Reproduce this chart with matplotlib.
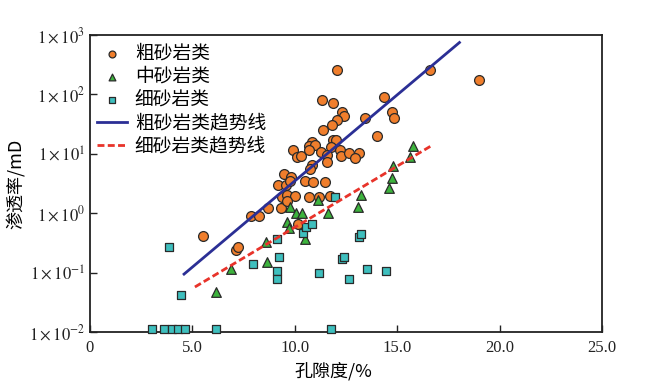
import matplotlib
matplotlib.use('Agg')
import matplotlib.pyplot as plt
from matplotlib.ticker import FixedLocator, FixedFormatter
import numpy as np

plt.rcParams['font.family'] = ['Liberation Serif', 'Noto Sans CJK SC', 'DejaVu Sans']
plt.rcParams['mathtext.fontset'] = 'stix'

# -------------- data --------------
# coarse sandstone: porosity (%), permeability (mD)
coarse_x = [5.53, 7.14, 7.24, 7.87, 8.26, 8.70, 9.35, 9.19, 9.58, 9.49, 9.83,
            9.39, 9.63, 10.02, 10.17, 10.71, 11.20, 11.74, 9.78, 10.51, 10.90,
            11.49, 9.93, 10.12, 10.32, 10.86, 10.71, 11.00, 11.88, 12.03, 10.71,
            11.30, 11.78, 12.22, 12.27, 12.67, 13.15, 12.96, 11.59, 11.59, 10.86,
            10.76, 11.34, 11.88, 12.32, 12.42, 12.08, 11.83, 11.39, 12.08, 14.38,
            13.45, 14.03, 14.77, 14.87, 16.58, 18.97, 9.60]
coarse_y = [0.41, 0.24, 0.27, 0.89, 0.89, 1.21, 1.21, 2.95, 2.95, 4.5, 4.0,
            1.86, 2.0, 1.93, 0.65, 1.86, 1.86, 1.93, 3.45, 3.45, 3.3,
            3.3, 11.5, 8.7, 9.1, 15.6, 13.4, 13.9, 16.9, 16.9, 11.5,
            10.6, 12.9, 11.5, 9.1, 10.2, 10.2, 8.4, 9.4, 7.2, 6.4,
            5.5, 82, 71, 50, 44, 37, 30, 25, 253, 92,
            40, 19.7, 50, 40, 253, 172, 1.6]

# medium sandstone
medium_x = [6.16, 6.89, 8.60, 8.65, 9.63, 9.73, 9.78, 10.07, 10.37, 10.51,
            11.15, 11.64, 13.10, 13.25, 14.62, 14.77, 14.82, 15.65, 15.75]
medium_y = [0.047, 0.115, 0.33, 0.15, 0.71, 0.56, 1.26, 1.0, 1.0, 0.37,
            1.65, 1.0, 1.26, 2.0, 2.7, 3.9, 6.2, 8.7, 13.4]

# fine sandstone
fine_x = [3.03, 3.62, 4.01, 4.30, 4.65, 6.16, 11.78, 3.86, 4.45, 7.97, 9.14,
          9.24, 9.14, 9.14, 10.42, 10.56, 10.86, 11.20, 11.98, 12.32, 12.42,
          12.67, 13.15, 13.25, 13.55, 14.47]
fine_y = [0.011, 0.011, 0.011, 0.011, 0.011, 0.011, 0.011, 0.27, 0.042, 0.139, 0.37,
          0.18, 0.106, 0.078, 0.46, 0.58, 0.65, 0.10, 1.86, 0.17, 0.18,
          0.078, 0.40, 0.44, 0.115, 0.106]

# trend lines (end points, straight on log axis)
coarse_trend_x = [4.6, 18.04]
coarse_trend_y = [0.094, 748]
fine_trend_x = [5.13, 16.63]
fine_trend_y = [0.057, 13.4]

xticks = [0, 5, 10, 15, 20, 25]
xticklabels = ['0', '5.0', '10.0', '15.0', '20.0', '25.0']
yticks = [1e-2, 1e-1, 1e0, 1e1, 1e2, 1e3]
yticklabels = [r'$1\times10^{-2}$', r'$1\times10^{-1}$', r'$1\times10^{0}$',
               r'$1\times10^{1}$', r'$1\times10^{2}$', r'$1\times10^{3}$']
# ---------------------------------------------------------

fig = plt.figure(figsize=(6.46, 3.85), dpi=100)
ax = fig.add_axes([0.139, 0.138, 0.793, 0.771])

ax.scatter(coarse_x, coarse_y, s=50, marker='o', facecolor='#F07E2C',
           edgecolor='#2a2a2a', linewidth=0.9, zorder=3, label='粗砂岩类', clip_on=False)
ax.scatter(medium_x, medium_y, s=48, marker='^', facecolor='#3DB33D',
           edgecolor='#2a2a2a', linewidth=0.9, zorder=3, label='中砂岩类', clip_on=False)
ax.scatter(fine_x, fine_y, s=38, marker='s', facecolor='#3EBFBE',
           edgecolor='#2a2a2a', linewidth=0.9, zorder=3, label='细砂岩类', clip_on=False)
ax.plot(coarse_trend_x, coarse_trend_y, color='#2B2F95', lw=2.0, zorder=4, label='粗砂岩类趋势线')
ax.plot(fine_trend_x, fine_trend_y, color='#E8332A', lw=2.0, ls=(0, (2.5, 1.2)), zorder=4,
        label='细砂岩类趋势线')

ax.set_yscale('log')
ax.set_xlim(0, 25)
ax.set_ylim(1e-2, 1e3)
ax.xaxis.set_major_locator(FixedLocator(xticks))
ax.xaxis.set_major_formatter(FixedFormatter(xticklabels))
ax.yaxis.set_major_locator(FixedLocator(yticks))
ax.yaxis.set_major_formatter(FixedFormatter(yticklabels))
ax.yaxis.set_minor_locator(FixedLocator([]))
ax.tick_params(direction='in', length=5, width=1, labelsize=12, colors='#222222')
ax.tick_params(axis='x', pad=6)
for sp in ax.spines.values():
    sp.set_linewidth(1.3)
    sp.set_color('#222222')

cjk = ['Noto Sans CJK SC', 'DejaVu Sans']
ax.set_xlabel('孔隙度/%', fontsize=13, family=cjk, labelpad=3)
ax.set_ylabel('渗透率/mD', fontsize=13, family=cjk, labelpad=2)
ax.xaxis.set_label_coords(0.475, -0.1)

leg = ax.legend(loc='upper left', frameon=False, prop={'family': cjk, 'size': 13.5},
                handlelength=1.6, handletextpad=0.4, labelspacing=0.12,
                borderaxespad=0.1, borderpad=0.3, markerscale=0.7)

fig.savefig('out.png', dpi=100)
